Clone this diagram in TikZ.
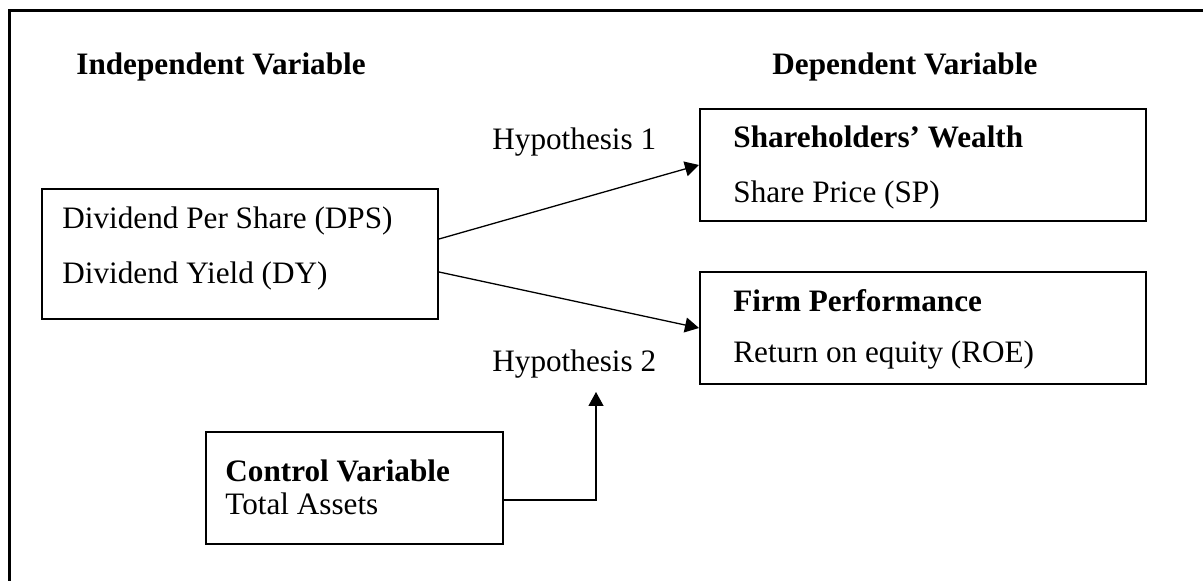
\documentclass[tikz,border=0pt]{standalone}
\usepackage{fontspec}
\setmainfont{Liberation Serif}
\usetikzlibrary{arrows.meta,calc}
\tikzset{
  frame/.style={line width=1.5pt},
  box/.style={draw, line width=1pt, rectangle, inner sep=0pt, anchor=north west},
  lbl/.style={anchor=base west, inner sep=0pt, font=\fontsize{15.6}{18}\selectfont},
  bold/.style={lbl, font=\fontsize{15.6}{18}\selectfont\bfseries},
  link/.style={line width=0.65pt, -{Triangle[length=7pt,width=7.5pt]}}
}
\begin{document}
\begin{tikzpicture}[x=0.5pt,y=-0.5pt]
  \clip (0,0) rectangle (1203,581);
  \useasboundingbox (0,0) rectangle (1203,581);
  % outer frame, running past the right and bottom edges
  \draw[frame] (9.5,620) -- (9.5,10.5) -- (1230,10.5);

  % headings
  \node[bold] (indep) at (76,75) {Independent Variable};
  \node[bold] (dep) at (772,75) {Dependent Variable};

  % boxes
  \node[box, minimum width=198pt, minimum height=65pt] (dps) at (41,188) {};
  \node[box, minimum width=223pt, minimum height=56pt] (sw) at (699,108) {};
  \node[box, minimum width=223pt, minimum height=56pt] (fp) at (699,271) {};
  \node[box, minimum width=148.5pt, minimum height=56pt] (ctrl) at (205,431) {};

  % box texts
  \node[lbl] (dpsA) at (62,229) {Dividend Per Share (DPS)};
  \node[lbl] (dpsB) at (62,284) {Dividend Yield (DY)};
  \node[bold] (swA) at (733,148) {Shareholders’ Wealth};
  \node[lbl] (swB) at (733,203) {Share Price (SP)};
  \node[bold] (fpA) at (733,312) {Firm Performance};
  \node[lbl] (fpB) at (733,363) {Return on equity (ROE)};
  \node[bold] (ctrlA) at (225,482) {Control Variable};
  \node[lbl] (ctrlB) at (225,515) {Total Assets};

  % hypothesis labels
  \node[lbl] (h1) at (492,150) {Hypothesis 1};
  \node[lbl] (h2) at (492,372) {Hypothesis 2};

  % connectors (y grows downwards here)
  \coordinate (h2tip) at (596,392);
  \draw[link] ($(dps.east)+(0,-15)$) -- (sw.west);
  \draw[link] ($(dps.east)+(0,18)$) -- (fp.west);
  \draw[link] ($(ctrl.east)+(0,12)$) -| (h2tip);
\end{tikzpicture}
\end{document}
